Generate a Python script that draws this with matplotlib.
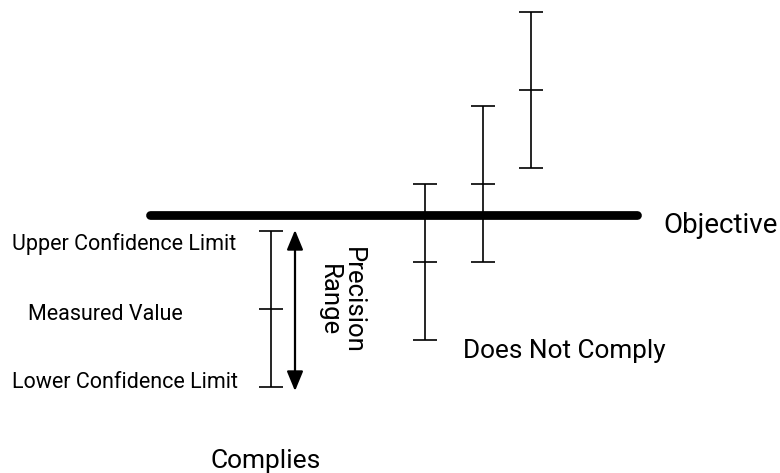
import matplotlib
matplotlib.use("Agg")
import matplotlib.pyplot as plt
import numpy as np

# Data (arbitrary units; objective = 0)
x_pos = [271, 425, 483, 531]
measured = [-1.2, -0.6, 0.4, 1.6]
half_range = [1.0, 1.0, 1.0, 1.0]
objective = 0.0
objective_span = [150, 637]

plt.rcParams['font.family'] = ['Roboto', 'DejaVu Sans']
plt.rcParams['font.weight'] = 'normal'

Y0, S = 215, 78  # layout: pixel row of objective, pixels per unit


def py(px):
    return (Y0 - px) / S


fig = plt.figure(figsize=(7.8, 4.73), dpi=100)
ax = fig.add_axes([0, 0, 1, 1])
ax.set_xlim(0, 780)
ax.set_ylim(py(473), py(0))
ax.axis('off')

ax.plot(objective_span, [objective, objective], color='black', lw=6.3, solid_capstyle='round', zorder=3)

ax.errorbar(x_pos, measured, yerr=half_range, fmt='none', ecolor='black', elinewidth=1.2,
            capsize=8.6, capthick=1.2, zorder=4)
ax.plot(x_pos, measured, ls='none', marker='_', ms=17.3, mew=1.2, color='black', zorder=4)

# precision range arrow beside the first bar
ax.annotate('', xy=(295, py(391)), xytext=(295, py(230)),
            arrowprops=dict(arrowstyle='<|-|>,head_length=0.8,head_width=0.33', color='black', lw=1.6,
                            mutation_scale=15, shrinkA=0, shrinkB=0))

ax.text(12, py(250), 'Upper Confidence Limit', ha='left', va='baseline', fontsize=15.5)
ax.text(28, py(320), 'Measured Value', ha='left', va='baseline', fontsize=15.5)
ax.text(12, py(388), 'Lower Confidence Limit', ha='left', va='baseline', fontsize=15.5)
ax.text(341, py(247), 'Precision\nRange', rotation=-90, ha='center', va='top',
        fontsize=18.5, linespacing=0.97)
ax.text(663, py(233), 'Objective', ha='left', va='baseline', fontsize=20)
ax.text(463, py(358), 'Does Not Comply', ha='left', va='baseline', fontsize=18.8)
ax.text(266, py(468), 'Complies', ha='center', va='baseline', fontsize=19)

fig.savefig('out.png', dpi=100, facecolor='white')
